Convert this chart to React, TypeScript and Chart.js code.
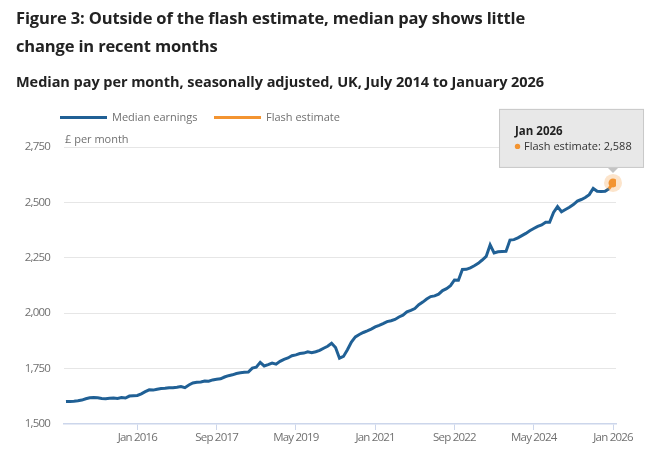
import React, { useEffect, useRef } from "react";
import { Chart, registerables } from "chart.js";

Chart.register(...registerables);

// ---- Data ----
const MONTH_NAMES = ["Jan", "Feb", "Mar", "Apr", "May", "Jun", "Jul", "Aug", "Sep", "Oct", "Nov", "Dec"];
const START_YEAR = 2014;
const START_MONTH = 6; // July
const MONTH_COUNT = 139; // Jul 2014 .. Jan 2026

const months: string[] = Array.from({ length: MONTH_COUNT }, (_, i) => {
  const m = START_MONTH + i;
  return `${MONTH_NAMES[m % 12]} ${START_YEAR + Math.floor(m / 12)}`;
});

// Median earnings, Jul 2014 .. Dec 2025 (£ per month)
const medianEarnings: number[] = [
  1601, 1602, 1603, 1605, 1608, 1614, 1618, 1620, 1618, 1615,
  1614, 1616, 1617, 1615, 1619, 1617, 1626, 1628, 1629, 1636,
  1646, 1654, 1653, 1657, 1660, 1661, 1664, 1664, 1666, 1669,
  1664, 1676, 1685, 1688, 1690, 1694, 1693, 1699, 1702, 1704,
  1712, 1718, 1722, 1728, 1731, 1733, 1734, 1752, 1756, 1778,
  1762, 1768, 1775, 1770, 1783, 1792, 1798, 1808, 1812, 1818,
  1820, 1826, 1822, 1826, 1832, 1842, 1851, 1864, 1845, 1797,
  1805, 1835, 1870, 1893, 1904, 1913, 1920, 1928, 1938, 1945,
  1953, 1962, 1966, 1972, 1983, 1991, 2006, 2013, 2021, 2038,
  2050, 2064, 2075, 2078, 2086, 2102, 2111, 2124, 2150, 2149,
  2197, 2198, 2205, 2214, 2225, 2240, 2256, 2308, 2272, 2277,
  2278, 2279, 2330, 2332, 2340, 2350, 2360, 2372, 2382, 2392,
  2398, 2410, 2410, 2455, 2481, 2458, 2468, 2478, 2490, 2506,
  2513, 2522, 2535, 2563, 2550, 2549, 2550, 2562,
];

// Flash estimate, Jan 2026
const flashMonth = "Jan 2026";
const flashValue = 2588;

const xTickLabels = ["Jan 2016", "Sep 2017", "May 2019", "Jan 2021", "Sep 2022", "May 2024", "Jan 2026"];
const yTickValues = [1500, 1750, 2000, 2250, 2500, 2750];

const BLUE = "#206095";
const ORANGE = "#f39431";
const FONT = "'Open Sans', 'Noto Sans', sans-serif";

export default function App() {
  const canvasRef = useRef<HTMLCanvasElement | null>(null);

  useEffect(() => {
    const canvas = canvasRef.current;
    if (!canvas) return;

    const flashIndex = months.indexOf(flashMonth);
    const lastIndex = medianEarnings.length - 1;

    const medianData = medianEarnings.map((v, i) => ({ x: i, y: v }));
    const flashData = [
      { x: lastIndex, y: medianEarnings[lastIndex] },
      { x: flashIndex, y: flashValue },
    ];

    // Tighter axis label text, closer to the reference's narrow labels
    const spacingPlugin = {
      id: "axisSpacing",
      beforeDraw(chart: any) {
        (chart.ctx as any).letterSpacing = "-0.8px";
      },
      beforeDatasetsDraw(chart: any) {
        (chart.ctx as any).letterSpacing = "0px";
      },
    };

    const haloPlugin = {
      id: "halo",
      afterDatasetDraw(chart: any, args: any) {
        if (args.index !== 0) return;
        const ctx = chart.ctx;
        const px = chart.scales.x.getPixelForValue(flashIndex);
        const py = chart.scales.y.getPixelForValue(flashValue);
        ctx.save();
        ctx.beginPath();
        ctx.arc(px, py, 9, 0, Math.PI * 2);
        ctx.fillStyle = "rgba(243,148,49,0.25)";
        ctx.fill();
        ctx.restore();
      },
    };

    const tooltipPlugin = {
      id: "fixedTooltip",
      afterDraw(chart: any) {
        const ctx = chart.ctx;
        const px = chart.scales.x.getPixelForValue(flashIndex);
        const py = chart.scales.y.getPixelForValue(flashValue);
        const w = 145;
        const h = 59;
        const left = px - 114;
        const top = py - 74;
        const bottom = top + h;
        ctx.save();
        (ctx as any).letterSpacing = "0px";
        // pointer
        ctx.beginPath();
        ctx.moveTo(px - 5, bottom);
        ctx.lineTo(px + 5, bottom);
        ctx.lineTo(px, bottom + 5);
        ctx.closePath();
        ctx.fillStyle = "#c4c4c4";
        ctx.fill();
        // box
        ctx.fillStyle = "#e8e8e8";
        ctx.fillRect(left, top, w, h);
        ctx.strokeStyle = "#c8c8c8";
        ctx.lineWidth = 1;
        ctx.strokeRect(left + 0.5, top + 0.5, w - 1, h - 1);
        // text
        ctx.fillStyle = "#222222";
        ctx.textBaseline = "middle";
        ctx.textAlign = "left";
        ctx.font = `bold 11.5px ${FONT}`;
        ctx.fillText(months[flashIndex], left + 16, top + 23);
        ctx.beginPath();
        ctx.arc(left + 18.5, top + 37.5, 2.7, 0, Math.PI * 2);
        ctx.fillStyle = ORANGE;
        ctx.fill();
        ctx.fillStyle = "#333333";
        ctx.font = `11px ${FONT}`;
        ctx.fillText(
          `Flash estimate: ${flashValue.toLocaleString("en-GB")}`,
          left + 25,
          top + 37.5
        );
        ctx.restore();
      },
    };

    const chart = new Chart(canvas, {
      type: "line",
      data: {
        datasets: [
          {
            label: "Median earnings",
            data: medianData,
            borderColor: BLUE,
            backgroundColor: BLUE,
            borderWidth: 3,
            pointRadius: 0,
            tension: 0,
            order: 2,
          },
          {
            label: "Flash estimate",
            data: flashData,
            borderColor: ORANGE,
            backgroundColor: ORANGE,
            borderWidth: 3,
            pointRadius: (c: any) => (c.raw && c.raw.x === flashIndex ? 4.5 : 0),
            pointBorderWidth: 0,
            pointBackgroundColor: ORANGE,
            tension: 0,
            order: 1,
          },
        ],
      },
      options: {
        animation: false,
        responsive: false,
        devicePixelRatio: window.devicePixelRatio || 1,
        layout: { padding: { left: 10, right: 42, top: 147, bottom: 0 } },
        plugins: {
          legend: { display: false },
          title: { display: false },
          tooltip: { enabled: false },
        },
        scales: {
          x: {
            type: "linear",
            min: -0.5,
            max: 138.75,
            afterBuildTicks: (scale: any) => {
              scale.ticks = xTickLabels.map((l) => ({ value: months.indexOf(l) }));
            },
            afterFit: (scale: any) => {
              scale.height = 30;
            },
            ticks: {
              autoSkip: false,
              maxRotation: 0,
              padding: 1,
              color: "#707070",
              font: { family: FONT, size: 11.5 },
              callback: (v: any) => months[Math.round(Number(v))],
            },
            grid: {
              drawOnChartArea: false,
              drawTicks: true,
              tickLength: 6,
              tickColor: "#ccd6eb",
              lineWidth: 1,
            },
            border: { display: true, color: "#ccd6eb", width: 1.5 },
          },
          y: {
            type: "linear",
            min: 1500,
            max: 2750,
            afterBuildTicks: (scale: any) => {
              scale.ticks = yTickValues.map((v) => ({ value: v }));
            },
            afterFit: (scale: any) => {
              scale.width = 54;
            },
            ticks: {
              padding: 14,
              color: "#707070",
              font: { family: FONT, size: 11.5 },
              callback: (v: any) => Number(v).toLocaleString("en-GB"),
            },
            grid: {
              drawTicks: false,
              color: (c: any) => (c.tick && c.tick.value === 1500 ? "rgba(0,0,0,0)" : "#e6e6e6"),
              lineWidth: 1,
            },
            border: { display: false },
          },
        },
      },
      plugins: [spacingPlugin, haloPlugin, tooltipPlugin],
    });

    return () => chart.destroy();
  }, []);

  const textBase: React.CSSProperties = {
    position: "absolute",
    fontFamily: FONT,
    whiteSpace: "nowrap",
    margin: 0,
  };

  return (
    <div
      style={{
        position: "relative",
        width: 658,
        height: 454,
        margin: -8,
        overflow: "hidden",
        background: "#ffffff",
      }}
    >
      <canvas
        ref={canvasRef}
        width={658}
        height={454}
        style={{ position: "absolute", left: 0, top: 0, width: 658, height: 454 }}
      />
      <div
        style={{
          ...textBase,
          left: 16,
          top: 4,
          fontSize: 16.5,
          fontWeight: 700,
          lineHeight: "28px",
          color: "#222222",
          letterSpacing: -0.15,
        }}
      >
        Figure 3: Outside of the flash estimate, median pay shows little
        <br />
        change in recent months
      </div>
      <div
        style={{
          ...textBase,
          left: 16,
          top: 72,
          fontSize: 14.5,
          fontWeight: 700,
          lineHeight: "20px",
          color: "#222222",
          letterSpacing: -0.05,
        }}
      >
        Median pay per month, seasonally adjusted, UK, July 2014 to January 2026
      </div>
      {/* Legend */}
      <div style={{ position: "absolute", left: 60, top: 116, width: 47, height: 3, background: BLUE }} />
      <div style={{ ...textBase, left: 112, top: 109, fontSize: 11, lineHeight: "16px", color: "#707070" }}>
        Median earnings
      </div>
      <div style={{ position: "absolute", left: 214, top: 116, width: 47, height: 3, background: ORANGE }} />
      <div style={{ ...textBase, left: 266, top: 109, fontSize: 11, lineHeight: "16px", color: "#707070" }}>
        Flash estimate
      </div>
      <div style={{ ...textBase, left: 65, top: 131, fontSize: 11, lineHeight: "16px", color: "#707070" }}>
        £ per month
      </div>
    </div>
  );
}
